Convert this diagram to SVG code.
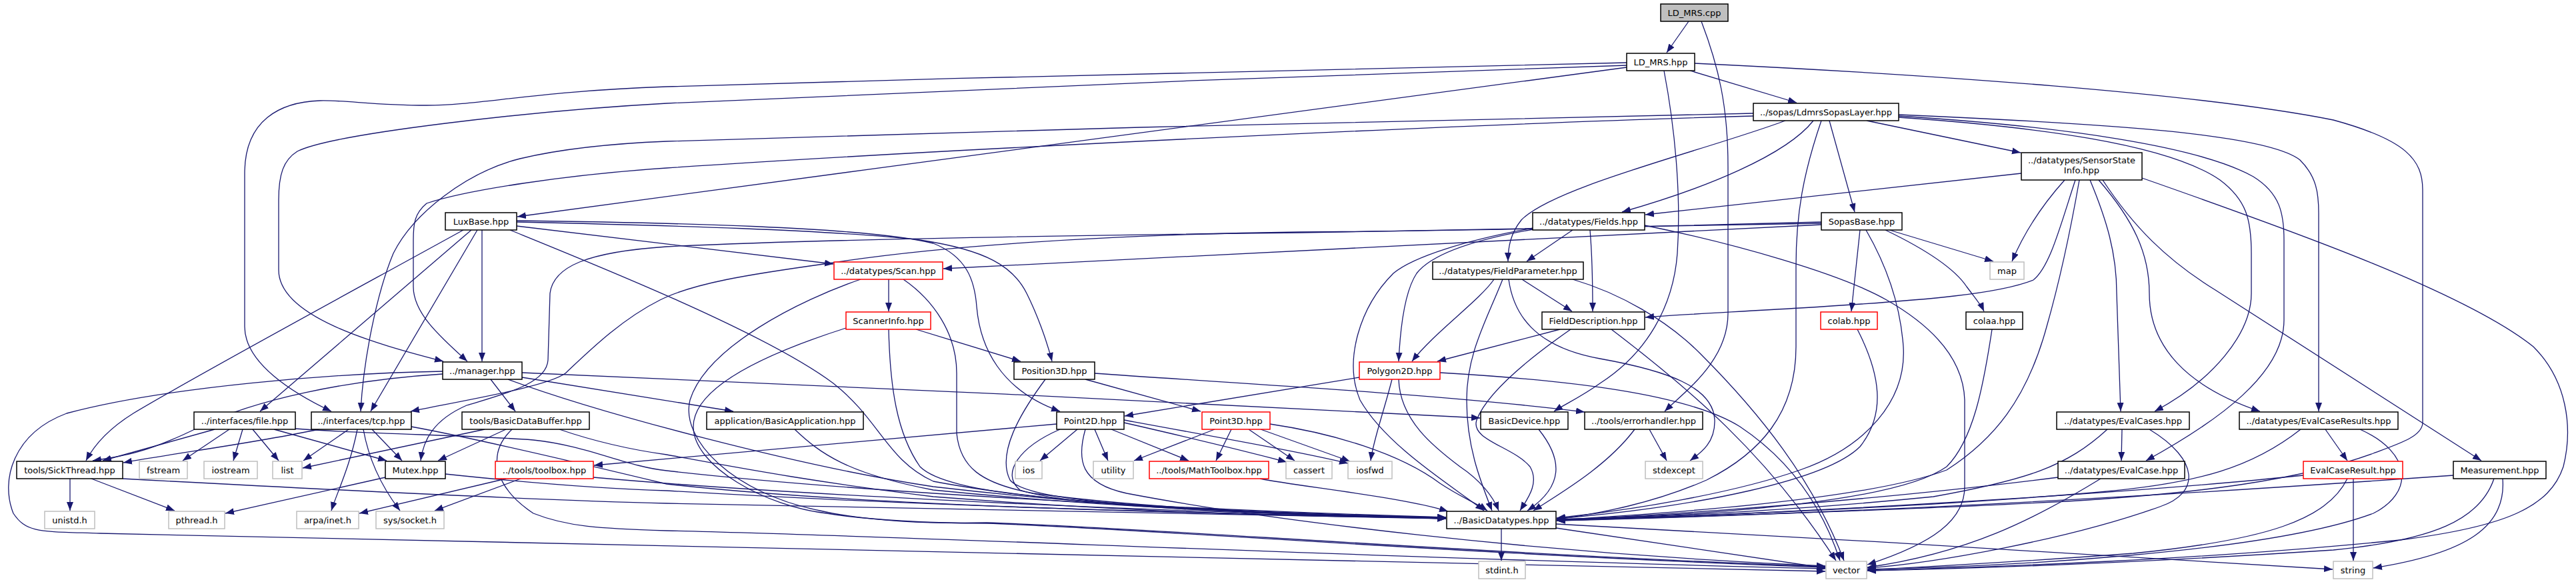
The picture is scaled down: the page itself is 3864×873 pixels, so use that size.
<svg xmlns="http://www.w3.org/2000/svg" width="3864" height="873" viewBox="0 0 3864 873">
<defs>
<marker id="a" markerUnits="userSpaceOnUse" markerWidth="14" markerHeight="11" refX="13" refY="5" orient="auto"><path d="M0,0L13,5L0,10z" fill="#191970"/></marker>
<style>
.nd rect{fill:#fff;stroke:#000;stroke-width:1.5}
.gr rect{fill:#fff;stroke:#bfbfbf;stroke-width:1.5}
.rd rect{fill:#fff;stroke:#ff0000;stroke-width:1.5}
.rt rect{fill:#bfbfbf;stroke:#000;stroke-width:1.5}
text{font-family:"DejaVu Sans","Liberation Sans",sans-serif;font-size:13px;text-anchor:middle;fill:#000}
.e path{fill:none;stroke:#191970;stroke-width:1.3;marker-end:url(#a)}
</style>
</defs>
<rect width="3864" height="873" fill="#fff"/>
<g id="edges" class="e">
<path d="M2533,32 L2500,79"/>
<path d="M2552,32 C2578,100 2592,160 2592,250 L2592,470 C2592,540 2530,585 2497,617"/>
<path d="M2535,106 L2695,154"/>
<path d="M2440,101 L776,325"/>
<path d="M2440,94 C2100,100 1500,115 1000,130 C800,137 720,158 640,158 C560,158 520,150 480,151 C420,153 367,180 367,260 L367,490 C367,545 440,590 497,617"/>
<path d="M2440,98 C2000,112 1400,135 1000,155 C800,166 500,200 446,227 C425,240 418,262 418,300 L418,405 C418,475 560,515 665,542"/>
<path d="M2496,106 C2512,190 2522,290 2516,380 C2510,460 2470,530 2400,575 C2372,595 2348,606 2331,617"/>
<path d="M2542,95 C2900,112 3300,140 3500,180 C3610,210 3634,240 3634,285 L3634,635 C3632,655 3600,665 3560,680 C3450,720 3300,740 3100,752 C2800,768 2500,776 2335,781"/>
<path d="M2744,181 L2782,318"/>
<path d="M2720,181 C2680,232 2560,282 2433,318"/>
<path d="M2678,181 C2560,225 2330,280 2282,330 C2266,350 2262,370 2262,392"/>
<path d="M2800,181 L3031,229"/>
<path d="M2630,170 C2200,178 1500,195 1000,212 C900,216 830,226 780,238 C700,258 620,320 590,380 C565,440 545,540 541,617"/>
<path d="M2630,174 C2200,186 1400,225 1000,252 C850,262 700,285 640,305 C622,320 620,335 620,360 L620,430 C620,470 660,505 701,542"/>
<path d="M2848,176 C3050,190 3250,215 3330,270 C3370,300 3377,330 3377,380 L3377,440 C3377,500 3320,570 3232,617"/>
<path d="M2848,174 C3100,190 3300,220 3380,265 C3420,290 3426,320 3426,360 L3426,480 C3426,560 3330,630 3219,691"/>
<path d="M2848,172 C3150,185 3400,200 3450,240 C3475,265 3478,290 3478,320 L3478,617"/>
<path d="M2732,181 C2705,260 2694,320 2694,400 L2694,520 C2694,620 2640,680 2560,720 C2480,755 2400,770 2335,779"/>
<path d="M695,345 C550,425 300,560 200,620 C160,645 140,670 129,691"/>
<path d="M707,345 L390,617"/>
<path d="M716,345 L556,617"/>
<path d="M723,345 L723,542"/>
<path d="M775,339 L1250,396"/>
<path d="M775,333 C1000,338 1250,345 1380,360 C1480,375 1520,400 1540,440 C1555,470 1570,510 1578,542"/>
<path d="M775,331 C1000,334 1300,340 1400,365 C1450,385 1462,420 1465,460 C1470,520 1500,585 1590,617"/>
<path d="M765,345 C900,400 1150,500 1250,575 C1320,630 1330,690 1400,722 C1600,760 1900,772 2169,776"/>
<path d="M2732,337 L1415,403"/>
<path d="M2790,345 L2777,467"/>
<path d="M2828,345 C2880,370 2930,400 2950,430 C2965,450 2972,458 2976,467"/>
<path d="M2834,345 L2990,392"/>
<path d="M2732,333 C2400,342 2100,347 1950,348 C1650,352 1400,370 1243,395 C1120,412 1040,425 990,450 C930,480 880,530 848,560 C820,580 700,600 616,617"/>
<path d="M2732,335 C2400,343 2100,346 1950,349 C1600,353 1200,360 1000,370 C880,378 830,400 825,440 L822,540 C820,575 760,590 700,608 C650,630 635,660 631,691"/>
<path d="M2799,345 C2825,390 2850,450 2855,520 C2860,600 2800,670 2700,705 C2600,740 2450,765 2335,777"/>
<path d="M2359,345 L2290,392"/>
<path d="M2385,345 C2388,380 2389,430 2389,467"/>
<path d="M2300,344 C2220,358 2150,378 2125,410 C2105,440 2100,500 2098,542"/>
<path d="M2300,342 C2200,360 2120,385 2090,410 C2040,460 2015,540 2040,600 C2080,670 2180,730 2226,766"/>
<path d="M2467,338 C2600,365 2760,410 2830,450 C2900,490 2945,540 2947,600 L2947,730 C2947,780 2900,815 2801,847"/>
<path d="M2241,419 C2220,450 2150,500 2118,542"/>
<path d="M2254,419 C2230,480 2200,530 2200,600 C2200,670 2220,720 2238,766"/>
<path d="M2263,419 C2270,470 2300,520 2400,538 C2500,556 2570,580 2572,630 C2573,665 2550,680 2535,691"/>
<path d="M2283,419 L2358,467"/>
<path d="M2359,419 C2430,440 2500,480 2550,530 C2640,620 2720,720 2766,841"/>
<path d="M2340,494 L2156,542"/>
<path d="M2356,494 C2290,540 2230,590 2215,630 C2205,660 2270,670 2295,700 C2310,725 2290,750 2280,766"/>
<path d="M2417,494 C2530,580 2650,680 2754,841"/>
<path d="M2039,566 L1687,624"/>
<path d="M2088,569 C2075,620 2060,660 2056,691"/>
<path d="M2098,569 C2100,630 2150,670 2190,700 C2220,720 2240,745 2248,766"/>
<path d="M2160,559 C2350,570 2530,590 2610,640 C2700,700 2740,780 2760,841"/>
<path d="M2308,644 C2345,690 2345,730 2291,766"/>
<path d="M2452,644 C2410,700 2340,740 2300,766"/>
<path d="M2474,644 L2500,691"/>
<path d="M3032,260 L2468,322"/>
<path d="M3097,270 C3070,300 3040,340 3018,392"/>
<path d="M3113,270 C3090,340 3075,400 3050,420 C3000,440 2900,450 2700,462 C2600,468 2500,473 2468,476"/>
<path d="M3119,270 C3105,350 3090,420 3070,490 C3040,600 2990,660 2920,705 C2800,750 2500,770 2335,780"/>
<path d="M3135,270 C3160,330 3175,380 3175,440 L3181,617"/>
<path d="M3148,270 C3200,330 3224,380 3224,440 C3224,520 3280,580 3390,617"/>
<path d="M3154,270 C3200,340 3250,390 3323,435 L3722,691"/>
<path d="M3213,267 C3450,350 3700,440 3800,520 C3850,570 3860,640 3845,700 C3825,760 3760,790 3600,810 C3300,840 3000,850 2801,856"/>
<path d="M3183,644 L3182,691"/>
<path d="M3161,644 C3100,700 3040,720 2900,745 C2700,765 2500,775 2335,779"/>
<path d="M3224,644 C3300,690 3300,740 3240,760 C3100,810 2900,845 2801,852"/>
<path d="M3087,716 C2900,740 2600,768 2335,780"/>
<path d="M3151,718 C3050,780 2950,830 2801,851"/>
<path d="M3451,644 C3380,700 3300,725 3150,738 C2900,760 2600,772 2335,780"/>
<path d="M3488,644 L3521,691"/>
<path d="M3540,644 C3620,680 3620,740 3560,770 C3400,830 3000,850 2801,854"/>
<path d="M3455,713 C3200,740 2700,770 2335,781"/>
<path d="M3521,718 C3490,780 3400,810 3200,830 C3000,845 2850,852 2801,855"/>
<path d="M3530,718 L3530,841"/>
<path d="M3680,713 C3300,740 2800,770 2335,781"/>
<path d="M3741,718 C3720,780 3650,810 3500,825 C3200,845 2950,853 2801,856"/>
<path d="M3754,718 C3760,790 3700,830 3560,852"/>
<path d="M2334,786 C2700,805 3200,835 3499,854"/>
<path d="M2334,792 L2738,852"/>
<path d="M2252,793 L2252,841"/>
<path d="M2786,494 C2820,560 2830,620 2790,670 C2740,720 2550,760 2335,778"/>
<path d="M2988,494 C2975,580 2960,660 2920,700 C2850,750 2600,772 2335,779"/>
<path d="M736,569 L773,617"/>
<path d="M664,561 C520,570 380,600 300,640 C220,680 180,685 139,691"/>
<path d="M664,557 C500,560 250,580 100,620 C20,650 0,720 20,770 C40,800 60,797 150,800 C500,815 1500,835 2738,857"/>
<path d="M762,569 C900,620 1200,700 1400,730 C1700,765 1950,772 2169,778"/>
<path d="M783,566 L1100,617"/>
<path d="M783,559 C1200,575 1800,605 2220,627"/>
<path d="M322,644 L154,691"/>
<path d="M344,644 L274,691"/>
<path d="M364,644 L350,691"/>
<path d="M379,644 L418,691"/>
<path d="M411,644 L580,691"/>
<path d="M443,643 C560,652 700,652 800,660 C880,668 940,700 1000,706 C1300,740 1800,765 2169,776"/>
<path d="M478,644 C380,665 260,680 185,694"/>
<path d="M523,644 L455,691"/>
<path d="M558,644 L603,691"/>
<path d="M536,644 C525,700 505,740 497,766"/>
<path d="M545,644 C555,700 580,740 600,766"/>
<path d="M617,640 C700,655 850,690 1000,726 C1300,760 1800,770 2169,777"/>
<path d="M727,644 L454,702"/>
<path d="M759,644 L657,691"/>
<path d="M839,644 C900,665 950,675 1000,682 C1100,700 1200,720 1400,745 C1700,768 1900,774 2169,777"/>
<path d="M768,644 C730,680 740,730 800,770 C850,790 900,793 1000,796 C1400,805 2000,835 2738,853"/>
<path d="M105,718 L105,766"/>
<path d="M137,718 L262,766"/>
<path d="M184,718 C500,735 800,750 1000,755 C1400,765 1800,772 2169,778"/>
<path d="M578,716 L338,770"/>
<path d="M668,711 C800,725 900,733 1000,736 C1400,760 1800,770 2169,778"/>
<path d="M759,718 L539,770"/>
<path d="M781,718 L652,766"/>
<path d="M890,716 C1100,735 1600,765 2169,777"/>
<path d="M1192,644 C1230,680 1270,710 1400,735 C1650,760 1900,772 2169,777"/>
<path d="M1333,419 L1333,467"/>
<path d="M1355,419 C1400,450 1435,500 1435,560 L1435,650 C1440,700 1470,725 1550,740 C1700,760 1900,772 2169,777"/>
<path d="M1291,419 C1200,450 1060,520 1035,600 C1020,660 1100,740 1230,766 C1300,782 1400,786 1480,784 C1700,790 2200,830 2738,850"/>
<path d="M1374,494 L1531,542"/>
<path d="M1333,494 C1335,580 1345,650 1380,700 C1420,740 1600,760 2169,777"/>
<path d="M1269,492 C1150,530 1040,580 1040,640 C1040,700 1150,760 1240,770 C1300,780 1400,785 1480,785 C1700,792 2200,832 2738,851"/>
<path d="M1628,569 L1801,617"/>
<path d="M1642,560 C1850,575 2150,590 2377,618"/>
<path d="M1568,569 C1530,620 1495,680 1515,720 C1540,750 1700,765 2169,777"/>
<path d="M1616,644 L1560,691"/>
<path d="M1642,644 L1662,691"/>
<path d="M1667,644 L1783,691"/>
<path d="M1686,634 C1800,660 1880,680 1930,693"/>
<path d="M1686,630 C1850,660 1960,680 2022,695"/>
<path d="M1585,636 L891,698"/>
<path d="M1590,644 C1530,670 1500,710 1530,735 C1600,760 1900,772 2169,777"/>
<path d="M1628,644 C1615,690 1620,725 1690,740 C1900,780 2300,830 2738,849"/>
<path d="M1822,644 L1701,691"/>
<path d="M1847,644 L1824,691"/>
<path d="M1873,644 L1942,691"/>
<path d="M1891,644 C1950,665 2000,683 2025,692"/>
<path d="M1905,636 C2000,650 2100,680 2160,725 C2190,745 2215,755 2231,766"/>
<path d="M1890,718 C1950,730 2100,745 2172,767"/>
</g>
<g id="n_ld_mrs_cpp" class="rt"><rect x="2491" y="6" width="101" height="26"/><text x="2541.5" y="23.5">LD_MRS.cpp</text></g>
<g id="n_ld_mrs_hpp" class="nd"><rect x="2440" y="80" width="102" height="26"/><text x="2491" y="97.5">LD_MRS.hpp</text></g>
<g id="n_sopaslayer" class="nd"><rect x="2630" y="155" width="218" height="26"/><text x="2739" y="172.5">../sopas/LdmrsSopasLayer.hpp</text></g>
<g id="n_sensorstate" class="nd"><rect x="3032" y="229" width="181" height="41"/><text x="3122.5" y="245">../datatypes/SensorState</text><text x="3122.5" y="260">Info.hpp</text></g>
<g id="n_luxbase" class="nd"><rect x="668" y="319" width="107" height="26"/><text x="721.5" y="336.5">LuxBase.hpp</text></g>
<g id="n_fields" class="nd"><rect x="2299" y="319" width="168" height="26"/><text x="2383" y="336.5">../datatypes/Fields.hpp</text></g>
<g id="n_sopasbase" class="nd"><rect x="2732" y="319" width="121" height="26"/><text x="2792.5" y="336.5">SopasBase.hpp</text></g>
<g id="n_scan" class="rd"><rect x="1251" y="393" width="163" height="26"/><text x="1332.5" y="410.5">../datatypes/Scan.hpp</text></g>
<g id="n_fieldparameter" class="nd"><rect x="2149" y="393" width="226" height="26"/><text x="2262" y="410.5">../datatypes/FieldParameter.hpp</text></g>
<g id="n_map" class="gr"><rect x="2985" y="393" width="51" height="26"/><text x="3010.5" y="410.5">map</text></g>
<g id="n_scannerinfo" class="rd"><rect x="1269" y="468" width="127" height="26"/><text x="1332.5" y="485.5">ScannerInfo.hpp</text></g>
<g id="n_fielddescription" class="nd"><rect x="2313" y="468" width="154" height="26"/><text x="2390" y="485.5">FieldDescription.hpp</text></g>
<g id="n_colab" class="rd"><rect x="2731" y="468" width="85" height="26"/><text x="2773.5" y="485.5">colab.hpp</text></g>
<g id="n_colaa" class="nd"><rect x="2949" y="468" width="85" height="26"/><text x="2991.5" y="485.5">colaa.hpp</text></g>
<g id="n_manager" class="nd"><rect x="664" y="543" width="119" height="26"/><text x="723.5" y="560.5">../manager.hpp</text></g>
<g id="n_position3d" class="nd"><rect x="1521" y="543" width="121" height="26"/><text x="1581.5" y="560.5">Position3D.hpp</text></g>
<g id="n_polygon2d" class="rd"><rect x="2039" y="543" width="121" height="26"/><text x="2099.5" y="560.5">Polygon2D.hpp</text></g>
<g id="n_file" class="nd"><rect x="291" y="618" width="152" height="26"/><text x="367" y="635.5">../interfaces/file.hpp</text></g>
<g id="n_tcp" class="nd"><rect x="467" y="618" width="150" height="26"/><text x="542" y="635.5">../interfaces/tcp.hpp</text></g>
<g id="n_basicdatabuffer" class="nd"><rect x="693" y="618" width="191" height="26"/><text x="788.5" y="635.5">tools/BasicDataBuffer.hpp</text></g>
<g id="n_basicapplication" class="nd"><rect x="1060" y="618" width="235" height="26"/><text x="1177.5" y="635.5">application/BasicApplication.hpp</text></g>
<g id="n_point2d" class="nd"><rect x="1585" y="618" width="101" height="26"/><text x="1635.5" y="635.5">Point2D.hpp</text></g>
<g id="n_point3d" class="rd"><rect x="1803" y="618" width="102" height="26"/><text x="1854" y="635.5">Point3D.hpp</text></g>
<g id="n_basicdevice" class="nd"><rect x="2221" y="618" width="131" height="26"/><text x="2286.5" y="635.5">BasicDevice.hpp</text></g>
<g id="n_errorhandler" class="nd"><rect x="2377" y="618" width="177" height="26"/><text x="2465.5" y="635.5">../tools/errorhandler.hpp</text></g>
<g id="n_evalcases" class="nd"><rect x="3085" y="618" width="199" height="26"/><text x="3184.5" y="635.5">../datatypes/EvalCases.hpp</text></g>
<g id="n_evalcaseresults" class="nd"><rect x="3359" y="618" width="238" height="26"/><text x="3478" y="635.5">../datatypes/EvalCaseResults.hpp</text></g>
<g id="n_sickthread" class="nd"><rect x="25" y="692" width="159" height="26"/><text x="104.5" y="709.5">tools/SickThread.hpp</text></g>
<g id="n_fstream" class="gr"><rect x="209" y="692" width="72" height="26"/><text x="245" y="709.5">fstream</text></g>
<g id="n_iostream" class="gr"><rect x="306" y="692" width="80" height="26"/><text x="346" y="709.5">iostream</text></g>
<g id="n_list" class="gr"><rect x="409" y="692" width="44" height="26"/><text x="431" y="709.5">list</text></g>
<g id="n_mutex" class="nd"><rect x="578" y="692" width="90" height="26"/><text x="623" y="709.5">Mutex.hpp</text></g>
<g id="n_toolbox" class="rd"><rect x="743" y="692" width="147" height="26"/><text x="816.5" y="709.5">../tools/toolbox.hpp</text></g>
<g id="n_ios" class="gr"><rect x="1523" y="692" width="40" height="26"/><text x="1543" y="709.5">ios</text></g>
<g id="n_utility" class="gr"><rect x="1640" y="692" width="60" height="26"/><text x="1670" y="709.5">utility</text></g>
<g id="n_mathtoolbox" class="rd"><rect x="1724" y="692" width="179" height="26"/><text x="1813.5" y="709.5">../tools/MathToolbox.hpp</text></g>
<g id="n_cassert" class="gr"><rect x="1929" y="692" width="69" height="26"/><text x="1963.5" y="709.5">cassert</text></g>
<g id="n_iosfwd" class="gr"><rect x="2022" y="692" width="66" height="26"/><text x="2055" y="709.5">iosfwd</text></g>
<g id="n_stdexcept" class="gr"><rect x="2468" y="692" width="86" height="26"/><text x="2511" y="709.5">stdexcept</text></g>
<g id="n_evalcase" class="nd"><rect x="3087" y="692" width="190" height="26"/><text x="3182" y="709.5">../datatypes/EvalCase.hpp</text></g>
<g id="n_evalcaseresult" class="rd"><rect x="3455" y="692" width="149" height="26"/><text x="3529.5" y="709.5">EvalCaseResult.hpp</text></g>
<g id="n_measurement" class="nd"><rect x="3680" y="692" width="139" height="26"/><text x="3749.5" y="709.5">Measurement.hpp</text></g>
<g id="n_unistd" class="gr"><rect x="67" y="767" width="75" height="26"/><text x="104.5" y="784.5">unistd.h</text></g>
<g id="n_pthread" class="gr"><rect x="253" y="767" width="84" height="26"/><text x="295" y="784.5">pthread.h</text></g>
<g id="n_arpa" class="gr"><rect x="445" y="767" width="93" height="26"/><text x="491.5" y="784.5">arpa/inet.h</text></g>
<g id="n_socket" class="gr"><rect x="564" y="767" width="102" height="26"/><text x="615" y="784.5">sys/socket.h</text></g>
<g id="n_basicdatatypes" class="nd"><rect x="2170" y="767" width="164" height="26"/><text x="2252" y="784.5">../BasicDatatypes.hpp</text></g>
<g id="n_stdint" class="gr"><rect x="2218" y="842" width="70" height="26"/><text x="2253" y="859.5">stdint.h</text></g>
<g id="n_vector" class="gr"><rect x="2739" y="842" width="61" height="26"/><text x="2769.5" y="859.5">vector</text></g>
<g id="n_string" class="gr"><rect x="3500" y="842" width="59" height="26"/><text x="3529.5" y="859.5">string</text></g>
</svg>
